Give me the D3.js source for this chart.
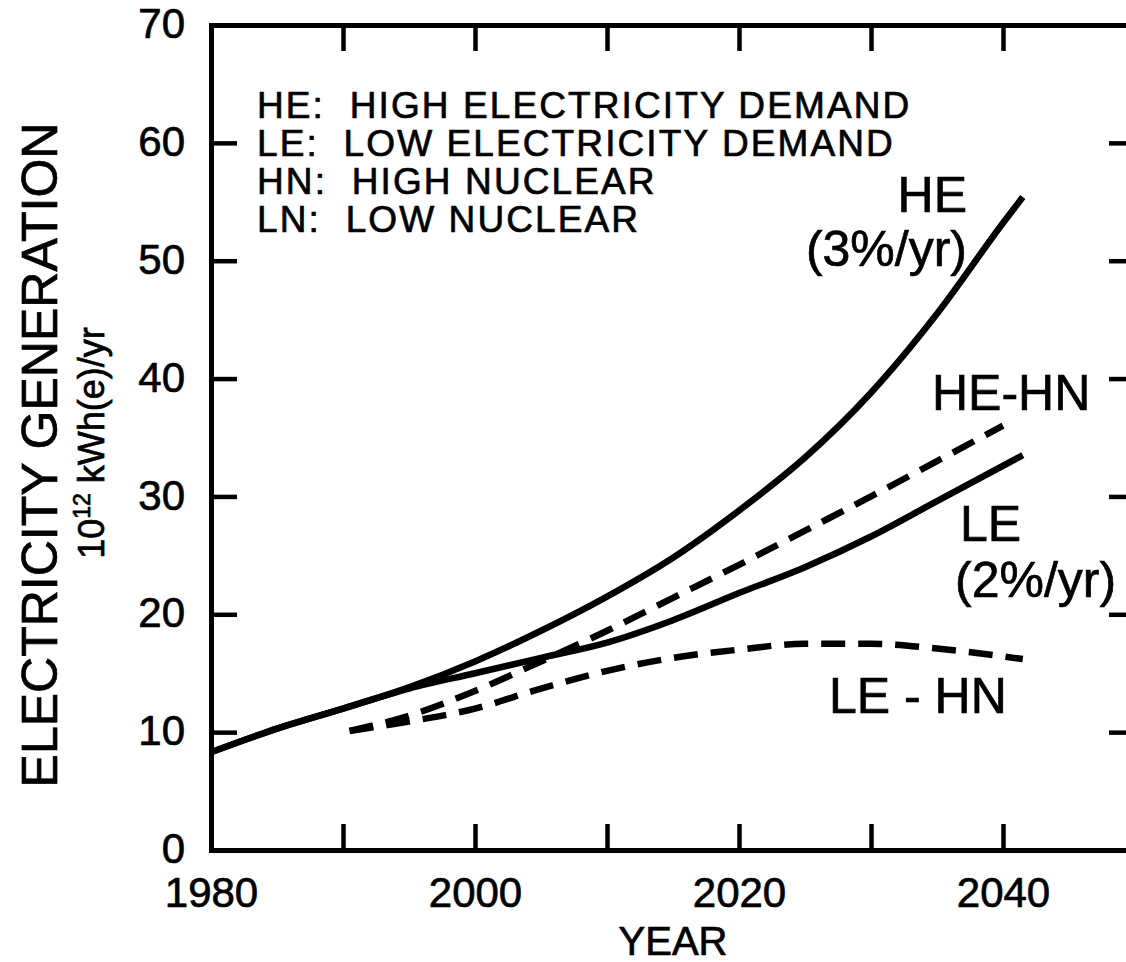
<!DOCTYPE html>
<html>
<head>
<meta charset="utf-8">
<script src="https://cdn.jsdelivr.net/npm/d3@7"></script>
<style>
  html, body { margin: 0; padding: 0; background: #fff; }
  svg { display: block; }
  text { font-family: "Liberation Sans", Arial, Helvetica, sans-serif; fill: #000; stroke: #000; stroke-width: 0.7px; }
</style>
</head>
<body>
<svg id="chart" width="1126" height="962"></svg>
<script>
// Electricity generation scenarios, 10^12 kWh(e)/yr
const heYears   = [1980, 1985, 1990, 1995, 2000, 2005, 2010, 2015, 2020, 2025, 2030, 2035, 2040, 2041.5];
const heValues  = [8.3, 10.3, 12.0, 13.8, 16.0, 18.6, 21.5, 24.8, 28.8, 33.3, 38.8, 45.5, 53.2, 55.4];

const leYears   = [1980, 1985, 1990, 1995, 2000, 2005, 2010, 2015, 2020, 2025, 2030, 2035, 2041.5];
const leValues  = [8.3, 10.3, 12.0, 13.7, 15.0, 16.3, 17.6, 19.5, 21.8, 24.0, 26.6, 29.6, 33.5];

const hehnYears  = [1990.5, 1995, 2000, 2005, 2010, 2015, 2020, 2025, 2030, 2035, 2040];
const hehnValues = [10.1, 11.4, 13.5, 16.0, 18.6, 21.4, 24.2, 27.1, 30.0, 33.0, 36.0];

const lehnYears  = [1990.5, 1995, 2000, 2005, 2010, 2015, 2020, 2025, 2030, 2035, 2041.5];
const lehnValues = [10.1, 10.9, 12.0, 13.7, 15.2, 16.3, 17.0, 17.5, 17.5, 17.1, 16.2];

// Axis ticks and labels
const xTickYears  = [1990, 2000, 2010, 2020, 2030, 2040];
const xLabelYears = [1980, 2000, 2020, 2040];
const yTickValues = [10, 20, 30, 40, 50, 60];
const yLabelValues = [0, 10, 20, 30, 40, 50, 60, 70];

const legendLines = [
  "HE:  HIGH ELECTRICITY DEMAND",
  "LE:  LOW ELECTRICITY DEMAND",
  "HN:  HIGH NUCLEAR",
  "LN:  LOW NUCLEAR"
];

const svg = d3.select("#chart");
svg.append("rect").attr("width", 1126).attr("height", 962).attr("fill", "#fff");

const x = d3.scaleLinear().domain([1980, 2050]).range([211, 1135]);
const y = d3.scaleLinear().domain([0, 70]).range([850, 25]);

const AXIS_W = 5;
const TICK_W = 4.5;
const TICK_LEN = 26;

function styleAxis(g) {
  g.select(".domain").attr("stroke", "#000").attr("stroke-width", AXIS_W).attr("stroke-linecap", "square");
  g.selectAll(".tick line").attr("stroke", "#000").attr("stroke-width", TICK_W);
}

// Frame with inward ticks on all four sides
svg.append("g").attr("transform", `translate(0,${y(0)})`)
  .call(d3.axisBottom(x).tickValues(xTickYears).tickSizeInner(-TICK_LEN).tickSizeOuter(0).tickFormat(""))
  .call(styleAxis);
svg.append("g").attr("transform", `translate(0,${y(70)})`)
  .call(d3.axisTop(x).tickValues(xTickYears).tickSizeInner(-TICK_LEN).tickSizeOuter(0).tickFormat(""))
  .call(styleAxis);
svg.append("g").attr("transform", `translate(${x(1980)},0)`)
  .call(d3.axisLeft(y).tickValues(yTickValues).tickSizeInner(-TICK_LEN).tickSizeOuter(0).tickFormat(""))
  .call(styleAxis);
svg.append("g").attr("transform", `translate(${x(2050)},0)`)
  .call(d3.axisRight(y).tickValues(yTickValues).tickSizeInner(-TICK_LEN).tickSizeOuter(0).tickFormat(""))
  .call(styleAxis);

// Tick labels
const xLab = svg.append("g").attr("transform", `translate(0,${y(0)})`)
  .call(d3.axisBottom(x).tickValues(xLabelYears).tickSize(0).tickPadding(27).tickFormat(d3.format("d")));
xLab.select(".domain").remove();
xLab.selectAll("text").attr("font-size", 42).attr("fill", "#000")
  .style("font-family", '"Liberation Sans", Arial, sans-serif');

const yLab = svg.append("g").attr("transform", `translate(${x(1980)},0)`)
  .call(d3.axisLeft(y).tickValues(yLabelValues).tickSize(0).tickPadding(26).tickFormat(d3.format("d")));
yLab.select(".domain").remove();
yLab.selectAll("text").attr("font-size", 42).attr("dy", "0.3em").attr("fill", "#000")
  .style("font-family", '"Liberation Sans", Arial, sans-serif');

// Axis titles
svg.append("text")
  .attr("x", 673).attr("y", 955)
  .attr("text-anchor", "middle").attr("font-size", 40)
  .text("YEAR");

svg.append("text")
  .attr("transform", "translate(57,455) rotate(-90)")
  .attr("text-anchor", "middle").attr("font-size", 50)
  .text("ELECTRICITY GENERATION");

const unit = svg.append("text")
  .attr("transform", "translate(104,443) rotate(-90)")
  .attr("text-anchor", "middle").attr("font-size", 36);
unit.append("tspan").text("10");
unit.append("tspan").attr("font-size", 23).attr("dy", -14).text("12");
unit.append("tspan").attr("dy", 14).text(" kWh(e)/yr");

// Legend of abbreviations
svg.append("g").selectAll("text").data(legendLines).join("text")
  .attr("x", 257)
  .attr("y", (d, i) => 118 + i * 38)
  .attr("font-size", 37)
  .attr("letter-spacing", 2.1)
  .attr("xml:space", "preserve")
  .style("white-space", "pre")
  .text(d => d);

// Curves
const line = d3.line().x(d => x(d[0])).y(d => y(d[1])).curve(d3.curveMonotoneX);
const pairs = (ys, vs) => ys.map((yr, i) => [yr, vs[i]]);

const curves = [
  { pts: pairs(heYears, heValues), dash: null },
  { pts: pairs(leYears, leValues), dash: null },
  { pts: pairs(hehnYears, hehnValues), dash: "24,13" },
  { pts: pairs(lehnYears, lehnValues), dash: "24,13" }
];

svg.append("g").selectAll("path").data(curves).join("path")
  .attr("d", d => line(d.pts))
  .attr("fill", "none")
  .attr("stroke", "#000")
  .attr("stroke-width", 6.5)
  .attr("stroke-dasharray", d => d.dash)
  .attr("stroke-linejoin", "round");

// Curve labels
const curveLabels = [
  { text: "HE",       x: 967, y: 212, anchor: "end" },
  { text: "(3%/yr)",  x: 967, y: 266, anchor: "end" },
  { text: "HE-HN",    x: 932, y: 410, anchor: "start" },
  { text: "LE",       x: 960, y: 541, anchor: "start" },
  { text: "(2%/yr)",  x: 955, y: 597, anchor: "start" },
  { text: "LE - HN",  x: 829, y: 713, anchor: "start" }
];
svg.append("g").selectAll("text").data(curveLabels).join("text")
  .attr("x", d => d.x).attr("y", d => d.y)
  .attr("text-anchor", d => d.anchor)
  .attr("font-size", 50)
  .attr("xml:space", "preserve")
  .style("white-space", "pre")
  .text(d => d.text);
</script>
</body>
</html>
